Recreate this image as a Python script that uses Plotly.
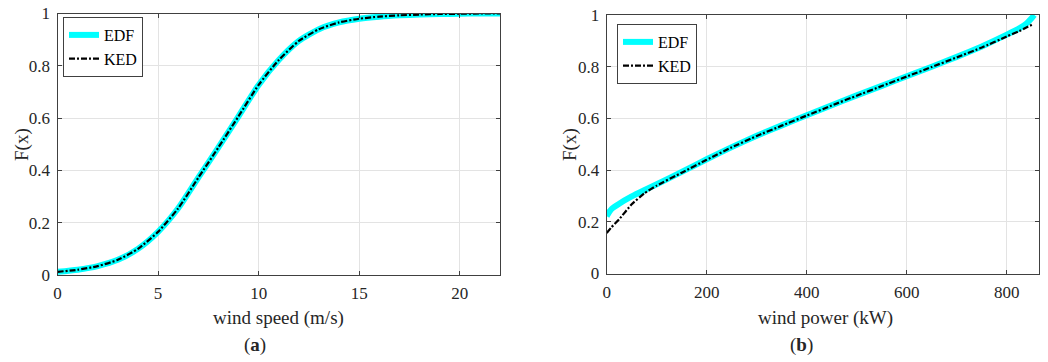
import plotly.graph_objects as go

# ---- data ----
speed_x = [0, 1, 2, 3, 4, 5, 6, 7, 8, 9, 10, 11, 12, 13, 14, 15, 16, 17, 18, 19, 20, 21, 22]
speed_edf = [0.012, 0.02, 0.034, 0.058, 0.10, 0.165, 0.255, 0.372, 0.488, 0.607, 0.727,
             0.822, 0.895, 0.94, 0.966, 0.98, 0.988, 0.993, 0.996, 0.998, 0.999, 1.0, 1.0]
speed_ked = [0.012, 0.02, 0.034, 0.058, 0.10, 0.165, 0.255, 0.372, 0.488, 0.607, 0.727,
             0.822, 0.895, 0.94, 0.966, 0.98, 0.988, 0.993, 0.996, 0.998, 0.999, 1.0, 1.0]

power_x_edf = [0, 5, 10, 25, 50, 75, 100, 150, 200, 250, 300, 350, 400, 450, 500, 550,
               600, 650, 700, 750, 800, 825, 840, 850, 855]
power_edf = [0.222, 0.238, 0.25, 0.27, 0.298, 0.322, 0.345, 0.393, 0.442, 0.489, 0.533, 0.573,
             0.612, 0.651, 0.689, 0.726, 0.763, 0.80, 0.838, 0.878, 0.924, 0.948, 0.968, 0.988, 1.0]
power_x_ked = [0, 10, 25, 50, 75, 100, 150, 200, 250, 300, 350, 400, 450, 500, 550,
               600, 650, 700, 750, 800, 825, 850]
power_ked = [0.157, 0.18, 0.21, 0.268, 0.31, 0.34, 0.39, 0.44, 0.488, 0.532, 0.572,
             0.611, 0.65, 0.688, 0.725, 0.762, 0.799, 0.836, 0.874, 0.917, 0.938, 0.962]

speed_ticks = [0, 5, 10, 15, 20]
power_ticks = [0, 200, 400, 600, 800]
y_ticks = [0, 0.2, 0.4, 0.6, 0.8, 1]
y_ticktext = ["0", "0.2", "0.4", "0.6", "0.8", "1"]

W, H = 1048, 362
FONT = "Liberation Serif"
TXT = "#262626"
CYAN = "#00FFFF"

fig = go.Figure()

def add_pair(xe, ye, xk, yk, xa, ya, leg, sm):
    fig.add_trace(go.Scatter(x=xe, y=ye, mode="lines", name="EDF", xaxis=xa, yaxis=ya,
                             legend=leg, line=dict(color=CYAN, width=6, shape="spline", smoothing=sm)))
    fig.add_trace(go.Scatter(x=xk, y=yk, mode="lines", name="KED", xaxis=xa, yaxis=ya,
                             legend=leg, line=dict(color="black", width=2.2, dash="6px,2px,2px,2px",
                                                   shape="spline", smoothing=sm)))

add_pair(speed_x, speed_edf, speed_x, speed_ked, "x", "y", "legend", 0.6)
add_pair(power_x_edf, power_edf, power_x_ked, power_ked, "x2", "y2", "legend2", 0.3)

def px_x(p):
    return p / W

def px_y(p):
    return 1 - p / H

axis_common = dict(showline=True, linecolor="#404040", linewidth=1, mirror="ticks",
                   ticks="inside", ticklen=4, tickcolor="#404040", showgrid=True,
                   gridcolor="#e3e3e3", gridwidth=1, zeroline=False, automargin=False,
                   ticklabelstandoff=3,
                   tickfont=dict(family=FONT, size=17, color=TXT))

fig.update_layout(
    template="none",
    width=W, height=H, margin=dict(l=0, r=0, t=0, b=0, pad=0, autoexpand=False),
    paper_bgcolor="white", plot_bgcolor="white",
    xaxis=dict(domain=[px_x(57.5), px_x(500)], range=[0, 22], tickvals=speed_ticks,
               anchor="y", **axis_common),
    yaxis=dict(domain=[px_y(275), px_y(13.5)], range=[0, 1], tickvals=y_ticks,
               ticktext=y_ticktext, anchor="x", **axis_common),
    xaxis2=dict(domain=[px_x(606.7), px_x(1039.3)], range=[0, 865], tickvals=power_ticks,
                anchor="y2", **axis_common),
    yaxis2=dict(domain=[px_y(273.5), px_y(15)], range=[0, 1], tickvals=y_ticks,
                ticktext=y_ticktext, anchor="x2", **axis_common),
    legend=dict(x=px_x(63), y=px_y(17), xanchor="left", yanchor="top",
                bgcolor="white", bordercolor="#404040", borderwidth=1,
                font=dict(family=FONT, size=16, color="black"), tracegroupgap=0,
                itemwidth=30),
    legend2=dict(x=px_x(617), y=px_y(24), xanchor="left", yanchor="top",
                 bgcolor="white", bordercolor="#404040", borderwidth=1,
                 font=dict(family=FONT, size=16, color="black"), tracegroupgap=0,
                 itemwidth=30),
)

ann = [
    dict(text="F(x)", x=px_x(22), y=px_y(145), textangle=-90),
    dict(text="F(x)", x=px_x(570), y=px_y(145), textangle=-90),
    dict(text="wind speed (m/s)", x=px_x(278.5), y=px_y(318)),
    dict(text="wind power (kW)", x=px_x(825), y=px_y(318)),
    dict(text="(<b>a</b>)", x=px_x(255), y=px_y(345)),
    dict(text="(<b>b</b>)", x=px_x(801), y=px_y(345)),
]
for a in ann:
    fig.add_annotation(xref="paper", yref="paper", showarrow=False,
                       xanchor="center", yanchor="middle",
                       font=dict(family=FONT, size=19, color=TXT), **a)

fig.write_html("out.html", config={"displayModeBar": False},
               post_script="document.body.style.margin='0';document.body.style.overflow='hidden';")
